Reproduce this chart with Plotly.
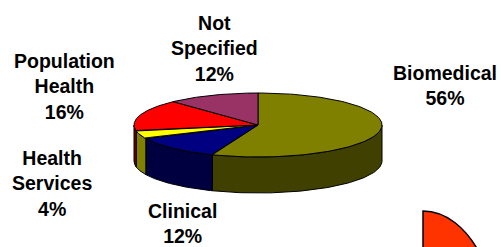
import numpy as np
import plotly.graph_objects as go

# ---- data ----
labels = ["Biomedical", "Clinical", "Health<br>Services", "Population<br>Health", "Not<br>Specified"]
values = [56, 12, 4, 16, 12]
top_colors = ["#808000", "#000080", "#FFFF00", "#FF0000", "#993366"]
side_colors = ["#404000", "#000040", "#808000", "#800000", "#4D1A33"]

# ---- geometry (pixel space) ----
W, H = 501, 247
cx, cy, rx, ry, depth = 258, 125, 124, 32, 36


def pt(theta_deg, dy=0.0):
    t = np.radians(theta_deg)
    return cx + rx * np.sin(t), cy - ry * np.cos(t) + dy


fig = go.Figure()

total = sum(values)
bounds = []
acc = 0.0
for v in values:
    a0 = acc / total * 360.0
    acc += v
    a1 = acc / total * 360.0
    bounds.append((a0, a1))

# side walls (front half only: 90..270 deg clockwise from top)
for (a0, a1), sc in zip(bounds, side_colors):
    s0, s1 = max(a0, 90.0), min(a1, 270.0)
    if s1 <= s0:
        continue
    th = np.linspace(s0, s1, 80)
    xt, yt = pt(th)
    xb, yb = pt(th[::-1], depth)
    xs = np.concatenate([xt, xb, xt[:1]])
    ys = np.concatenate([yt, yb, yt[:1]])
    fig.add_trace(go.Scatter(x=xs, y=ys, mode="lines", fill="toself",
                             fillcolor=sc, line=dict(color="black", width=1),
                             hoverinfo="skip", showlegend=False))

# top faces
for (a0, a1), tc in zip(bounds, top_colors):
    th = np.linspace(a0, a1, 120)
    xa, ya = pt(th)
    xs = np.concatenate([[cx], xa, [cx]])
    ys = np.concatenate([[cy], ya, [cy]])
    fig.add_trace(go.Scatter(x=xs, y=ys, mode="lines", fill="toself",
                             fillcolor=tc, line=dict(color="black", width=1),
                             hoverinfo="skip", showlegend=False))

# labels
label_pos = [(445, 85), (182, 223), (52, 183), (64, 86), (214, 48)]
font = dict(family="Liberation Sans, Arial, sans-serif", size=19.5, color="black")
for lab, v, (lx, ly) in zip(labels, values, label_pos):
    fig.add_annotation(x=lx, y=ly, xref="x", yref="y", text=f"<b>{lab}<br>{v}%</b>",
                       showarrow=False, xanchor="center", yanchor="middle",
                       align="center", font=font, borderpad=0)

# decorative fragment in the bottom-right corner
fig.add_shape(type="path", xref="x", yref="y",
              path="M 423,252 L 423,211 C 446,211 466,228 479,252 Z",
              fillcolor="#FF3300", line=dict(color="black", width=1.5))

fig.update_xaxes(range=[0, W], visible=False, fixedrange=True)
fig.update_yaxes(range=[H, 0], visible=False, fixedrange=True)
fig.update_layout(width=W, height=H, margin=dict(l=0, r=0, t=0, b=0),
                  paper_bgcolor="white", plot_bgcolor="white")

fig.write_html("out.html", config={"displayModeBar": False},
               post_script="document.body.style.margin='0';document.body.style.overflow='hidden';")
